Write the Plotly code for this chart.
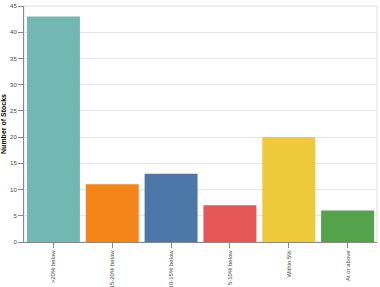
import plotly.graph_objects as go

categories = [">20% below", "15-20% below", "10-15% below", "5-10% below", "Within 5%", "At or above"]
counts = [43, 11, 13, 7, 20, 6]
colors = ["#72b7b2", "#f58518", "#4c78a8", "#e45756", "#eeca3b", "#54a24b"]

fig = go.Figure(go.Bar(x=categories, y=counts, marker=dict(color=colors, line=dict(width=0))))

fig.update_layout(
    width=380, height=287,
    margin=dict(l=24, r=3, t=6, b=45),
    paper_bgcolor="white", plot_bgcolor="white",
    font=dict(family="Liberation Sans, Arial, sans-serif", size=6, color="#444"),
    bargap=0.1,
    showlegend=False,
    shapes=[dict(type="rect", xref="paper", yref="paper", x0=0, x1=1, y0=0, y1=1,
                 line=dict(color="#dddddd", width=1), layer="below")],
)
fig.update_xaxes(
    tickangle=-90, ticks="outside", ticklen=5, tickcolor="#888", showline=True,
    linecolor="#888", linewidth=1, showgrid=False, tickfont=dict(size=6, color="#444"),
    automargin=False,
)
fig.update_yaxes(
    range=[0, 45], dtick=5, ticks="outside", ticklen=5, tickcolor="#888", showline=True,
    linecolor="#888", linewidth=1, gridcolor="#e6e6e6", gridwidth=1,
    zeroline=False, tickfont=dict(size=6, color="#444"), automargin=False,
    title=dict(text="<b>Number of Stocks</b>", font=dict(size=7, color="#000"), standoff=3),
)

fig.write_html("out.html")
